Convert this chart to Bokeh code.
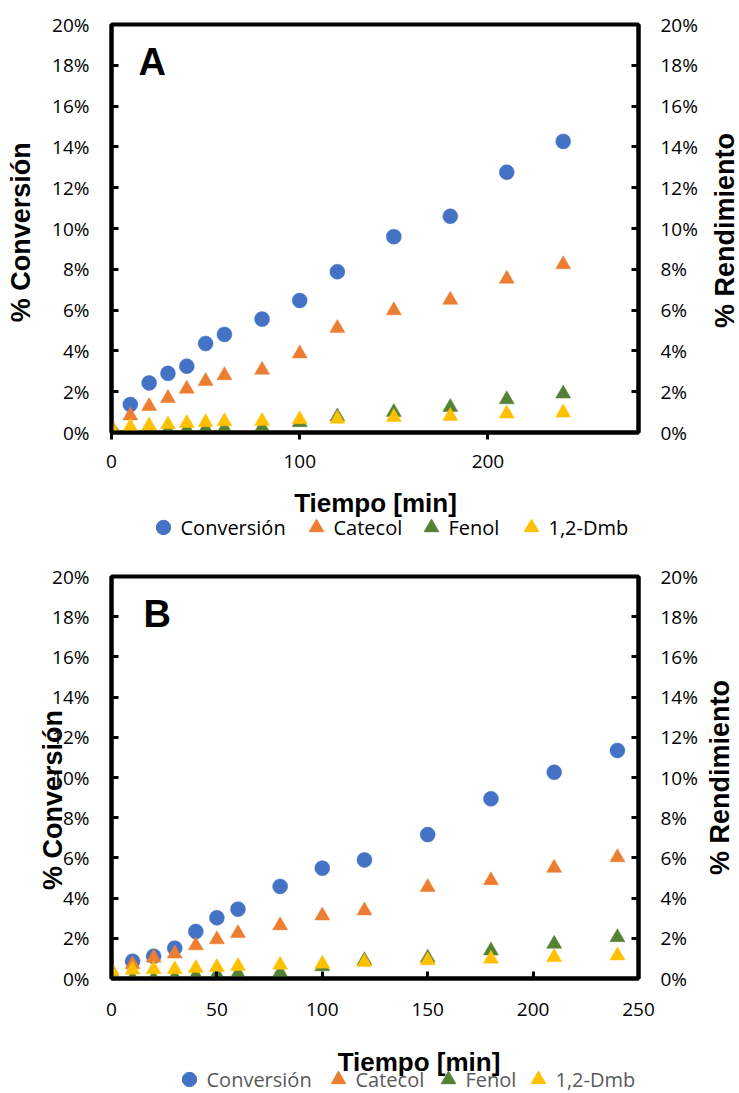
import math
from bokeh.plotting import figure
from bokeh.models import (Range1d, LinearAxis, FixedTicker, PrintfTickFormatter,
                          Legend, LegendItem, Label)
from bokeh.layouts import column, row
from bokeh.embed import file_html
from bokeh.resources import INLINE

# ---------------- data ----------------
time = [0, 10, 20, 30, 40, 50, 60, 80, 100, 120, 150, 180, 210, 240]

conv_a = [0, 1.37, 2.43, 2.90, 3.25, 4.36, 4.81, 5.56, 6.47, 7.88, 9.60, 10.60, 12.76, 14.27]
cat_a = [0.26, 0.83, 1.29, 1.68, 2.14, 2.52, 2.80, 3.07, 3.87, 5.12, 5.98, 6.50, 7.53, 8.24]
fen_a = [0, 0, 0.05, 0.10, 0.15, 0.18, 0.20, 0.25, 0.50, 0.78, 1.00, 1.24, 1.62, 1.90]
dmb_a = [0.20, 0.27, 0.34, 0.39, 0.46, 0.50, 0.54, 0.56, 0.64, 0.67, 0.75, 0.80, 0.92, 0.97]

conv_b = [0, 0.86, 1.11, 1.51, 2.34, 3.02, 3.45, 4.58, 5.49, 5.90, 7.16, 8.94, 10.26, 11.34]
cat_b = [0.40, 0.70, 1.03, 1.23, 1.64, 1.94, 2.25, 2.64, 3.13, 3.38, 4.54, 4.88, 5.50, 6.03]
fen_b = [0, 0, 0, 0.07, 0.15, 0.20, 0.25, 0.30, 0.60, 0.90, 1.03, 1.39, 1.72, 2.05]
dmb_b = [0.36, 0.43, 0.45, 0.45, 0.51, 0.56, 0.61, 0.68, 0.73, 0.81, 0.90, 0.98, 1.06, 1.14]

series_names = ["Conversión", "Catecol", "Fenol", "1,2-Dmb"]
y_ticks = [0, 2, 4, 6, 8, 10, 12, 14, 16, 18, 20]
x_ticks_a = [0, 100, 200]
x_ticks_b = [0, 50, 100, 150, 200, 250]

COLORS = ["#4472C4", "#ED7D31", "#548235", "#FFC000"]
MARKERS = ["circle", "triangle", "triangle", "triangle"]

TICK_FONT = "Open Sans"
TITLE_FONT = "Liberation Sans"
W_MAIN = 706          # width of the column holding the two panels
W_SIDE = 33           # narrow strip on the right holding "% Rendimiento"
TOTAL_H = 1093
LEFT = 111
RIGHT = 68
GLYPH = 36


def style_axis(ax):
    ax.axis_line_width = 4
    ax.axis_line_color = "black"
    ax.major_tick_line_width = 3
    ax.major_tick_line_color = "black"
    ax.minor_tick_line_color = None
    ax.major_label_text_font = TICK_FONT
    ax.major_label_text_font_size = "19px"
    ax.major_label_text_color = "black"
    ax.axis_label_text_font = TITLE_FONT
    ax.axis_label_text_font_style = "bold"
    ax.axis_label_text_font_size = "27px"
    ax.axis_label_text_color = "black"


def make_main(series, letter, xmax, xticks, height, frame_top, frame_h,
              x_tick_inside, x_label_standoff, ltitle, ltitle_standoff, letter_pos):
    p = figure(width=W_MAIN, height=height, output_backend="svg", toolbar_location=None,
               x_range=Range1d(0, xmax), y_range=Range1d(0, 20),
               min_border_left=LEFT, min_border_right=RIGHT,
               min_border_top=frame_top, min_border_bottom=height - frame_top - frame_h)
    p.extra_y_ranges = {"r": Range1d(0, 20)}
    p.grid.visible = False
    p.outline_line_color = "black"
    p.outline_line_width = 4
    p.outline_line_alpha = 1

    p.xaxis.ticker = FixedTicker(ticks=xticks)
    p.yaxis.ticker = FixedTicker(ticks=y_ticks)
    p.yaxis.formatter = PrintfTickFormatter(format="%d%%")
    style_axis(p.xaxis[0])
    style_axis(p.yaxis[0])
    p.yaxis.major_tick_in = 7
    p.yaxis.major_tick_out = 0
    p.yaxis.major_label_standoff = 22
    p.yaxis.axis_label = ltitle
    p.yaxis.axis_label_standoff = ltitle_standoff
    if x_tick_inside:
        p.xaxis.major_tick_in = 7
        p.xaxis.major_tick_out = 0
    else:
        p.xaxis.major_tick_in = 0
        p.xaxis.major_tick_out = 7
    p.xaxis.major_label_standoff = x_label_standoff

    rax = LinearAxis(y_range_name="r", ticker=FixedTicker(ticks=y_ticks),
                     formatter=PrintfTickFormatter(format="%d%%"))
    style_axis(rax)
    rax.major_tick_in = 7
    rax.major_tick_out = 0
    rax.major_label_standoff = 22
    p.add_layout(rax, "right")

    for vals, color, marker in zip(series, COLORS, MARKERS):
        p.scatter(time, vals, marker=marker, size=15, fill_color=color,
                  line_color=color, line_width=0.5)

    p.add_layout(Label(x=letter_pos[0], y=letter_pos[1], text=letter,
                       text_font=TITLE_FONT, text_font_style="bold",
                       text_font_size="38px", text_baseline="middle",
                       text_align="left", text_color="black"))
    return p


def make_strip(series, height, title_pos, legend_centers, legend_y, text_color):
    s = figure(width=W_MAIN, height=height, output_backend="svg", toolbar_location=None,
               x_range=Range1d(LEFT, W_MAIN - RIGHT), y_range=Range1d(height, 0),
               min_border_left=LEFT, min_border_right=RIGHT,
               min_border_top=0, min_border_bottom=0,
               x_axis_location=None, y_axis_location=None)
    s.outline_line_color = None
    s.grid.visible = False
    # copies of the series mapped outside the visible range; used by the legend only
    s.extra_y_ranges = {"off": Range1d(-100, -50)}
    rends = []
    for vals, color, marker in zip(series, COLORS, MARKERS):
        rends.append(s.scatter(time, vals, marker=marker, size=15, fill_color=color,
                               line_color=color, y_range_name="off"))
    s.add_layout(Label(x=title_pos[0], y=title_pos[1], text="Tiempo [min]",
                       text_font=TITLE_FONT, text_font_style="bold",
                       text_font_size="26px", text_baseline="middle",
                       text_align="center", text_color="black"))
    for name, r, cx in zip(series_names, rends, legend_centers):
        leg = Legend(items=[LegendItem(label=name, renderers=[r])],
                     orientation="horizontal",
                     location=(cx - GLYPH / 2 - LEFT, legend_y),
                     glyph_width=GLYPH, glyph_height=GLYPH, label_standoff=0,
                     padding=0, margin=0, border_line_alpha=0,
                     background_fill_alpha=0, label_text_font=TICK_FONT,
                     label_text_font_size="20px", label_text_color=text_color,
                     label_text_baseline="middle")
        s.add_layout(leg, "center")
    return s


def make_side():
    r = figure(width=W_SIDE, height=TOTAL_H, output_backend="svg", toolbar_location=None,
               x_range=Range1d(W_MAIN, W_MAIN + W_SIDE), y_range=Range1d(TOTAL_H, 0),
               min_border_left=0, min_border_right=0, min_border_top=0,
               min_border_bottom=0, x_axis_location=None, y_axis_location=None)
    r.outline_line_color = None
    r.grid.visible = False
    for x, y in [(724.5, 230), (719, 777)]:
        r.add_layout(Label(x=x, y=y, text="% Rendimiento", angle=math.pi / 2,
                           text_font=TITLE_FONT, text_font_style="bold",
                           text_font_size="27px", text_baseline="middle",
                           text_align="center", text_color="black"))
    return r


NB = "\u00a0"
pa = make_main([conv_a, cat_a, fen_a, dmb_a], "A", 280, x_ticks_a, 482, 24, 408,
               False, 15, "% Conversión" + NB, 13, (14.3, 18.14))
sa = make_strip([conv_a, cat_a, fen_a, dmb_a], 63, (375, 20),
                [162.5, 315.5, 430.5, 530.5], 0, "black")
pb = make_main([conv_b, cat_b, fen_b, dmb_b], "B", 250, x_ticks_b, 485, 31, 402,
               True, 24, "% Conversión" + NB * 6, -19, (15.2, 18.13))
sb = make_strip([conv_b, cat_b, fen_b, dmb_b], 63, (418.5, 31),
                [188.5, 337.5, 447.5, 537.5], -4, "#595959")
side = make_side()

layout = row(column(pa, sa, pb, sb, spacing=0), side, spacing=0)
open("out.html", "w").write(file_html(layout, INLINE))
